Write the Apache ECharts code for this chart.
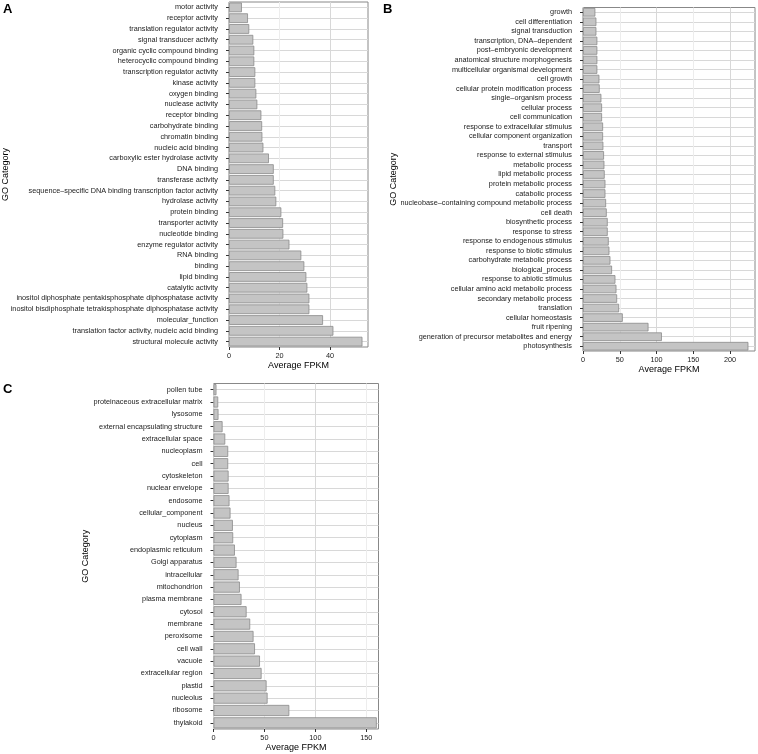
<!DOCTYPE html>
<html>
<head>
<meta charset="utf-8">
<script src="https://cdn.jsdelivr.net/npm/echarts@6/dist/echarts.min.js"></script>
<style>
html,body{margin:0;padding:0;background:#fff;}
#chart{width:758px;height:754px;}
</style>
</head>
<body>
<div id="chart"></div>
<script>
// Panel A: molecular function
const catsA = ["motor activity","receptor activity","translation regulator activity","signal transducer activity","organic cyclic compound binding","heterocyclic compound binding","transcription regulator activity","kinase activity","oxygen binding","nuclease activity","receptor binding","carbohydrate binding","chromatin binding","nucleic acid binding","carboxylic ester hydrolase activity","DNA binding","transferase activity","sequence\u2013specific DNA binding transcription factor activity","hydrolase activity","protein binding","transporter activity","nucleotide binding","enzyme regulator activity","RNA binding","binding","lipid binding","catalytic activity","inositol diphosphate pentakisphosphate diphosphatase activity","inositol bisdiphosphate tetrakisphosphate diphosphatase activity","molecular_function","translation factor activity, nucleic acid binding","structural molecule activity"];
const valsA = [5.1,7.5,8.0,9.6,10.0,10.0,10.4,10.4,10.8,11.2,12.8,13.1,13.2,13.6,15.8,17.7,17.7,18.3,18.7,20.7,21.4,21.5,23.9,28.6,29.8,30.6,31.0,31.8,31.8,37.2,41.3,52.8];
const ticksA = [0,20,40];

// Panel B: biological process
const catsB = ["growth","cell differentiation","signal transduction","transcription, DNA\u2013dependent","post\u2013embryonic development","anatomical structure morphogenesis","multicellular organismal development","cell growth","cellular protein modification process","single\u2013organism process","cellular process","cell communication","response to extracellular stimulus","cellular component organization","transport","response to external stimulus","metabolic process","lipid metabolic process","protein metabolic process","catabolic process","nucleobase\u2013containing compound metabolic process","cell death","biosynthetic process","response to stress","response to endogenous stimulus","response to biotic stimulus","carbohydrate metabolic process","biological_process","response to abiotic stimulus","cellular amino acid metabolic process","secondary metabolic process","translation","cellular homeostasis","fruit ripening","generation of precursor metabolites and energy","photosynthesis"];
const valsB = [16.8,18.2,18.2,19.5,19.5,19.5,19.5,22.3,22.7,25.0,25.9,25.9,27.3,27.3,27.7,28.6,29.1,29.5,30.5,30.5,31.4,32.3,33.6,33.6,35.0,35.9,37.3,39.5,44.1,45.5,46.4,49.1,54.1,89.1,107.3,225.0];
const ticksB = [0,50,100,150,200];

// Panel C: cellular component
const catsC = ["pollen tube","proteinaceous extracellular matrix","lysosome","external encapsulating structure","extracellular space","nucleoplasm","cell","cytoskeleton","nuclear envelope","endosome","cellular_component","nucleus","cytoplasm","endoplasmic reticulum","Golgi apparatus","intracellular","mitochondrion","plasma membrane","cytosol","membrane","peroxisome","cell wall","vacuole","extracellular region","plastid","nucleolus","ribosome","thylakoid"];
const valsC = [2.9,4.6,4.9,8.9,11.5,14.4,14.4,14.8,14.8,15.7,16.7,19.0,19.3,21.0,22.6,24.6,25.9,27.5,32.5,36.0,39.3,40.7,45.6,47.2,52.1,53.1,74.4,160.3];
const ticksC = [0,50,100,150];

const FONT = "'Liberation Sans', Arial, Helvetica, sans-serif";
const MAJOR = '#d8d8d8', MINOR = '#ededed', BORDER = '#888888';
const LBL = 7.3;

function xAxisFor(gi, max, step, ticks) {
  return {
    gridIndex: gi, type: 'value', min: 0, max: max, interval: step,
    axisLine: {show: false},
    axisTick: {show: true, length: 3, customValues: ticks, lineStyle: {color: '#333', width: 1}},
    axisLabel: {customValues: ticks, fontSize: LBL, color: '#222', margin: 5.5, fontFamily: FONT},
    splitLine: {show: true, lineStyle: {color: [MAJOR, MINOR], width: 1}},
    name: 'Average FPKM', nameLocation: 'middle', nameGap: 14.5, nameMoveOverlap: false,
    nameTextStyle: {fontSize: 9, color: '#000', fontFamily: FONT}
  };
}
function yAxisFor(gi, cats, gap) {
  return {
    gridIndex: gi, type: 'category', data: cats, inverse: true, offset: 6,
    axisLine: {show: false},
    axisTick: {show: true, length: 3, alignWithLabel: true, lineStyle: {color: '#333', width: 1}},
    axisLabel: {fontSize: LBL, color: '#222', margin: 5, fontFamily: FONT, interval: 0, hideOverlap: false},
    splitLine: {show: true, alignWithLabel: true, interval: 0, lineStyle: {color: MAJOR, width: 1}},
    name: 'GO Category', nameLocation: 'middle', nameGap: gap, nameRotate: 90, nameMoveOverlap: false,
    nameTextStyle: {fontSize: 9, color: '#000', fontFamily: FONT}
  };
}
function seriesFor(gi, vals) {
  return {
    type: 'bar', xAxisIndex: gi, yAxisIndex: gi, data: vals,
    barCategoryGap: '10%', silent: true,
    itemStyle: {color: '#c4c4c4', borderColor: '#8a8a8a', borderWidth: 0.8}
  };
}

const chart = echarts.init(document.getElementById('chart'), null, {renderer: 'canvas'});
chart.setOption({
  animation: false,
  backgroundColor: '#fff',
  textStyle: {fontFamily: FONT},
  title: [
    {text: 'A', left: 3, top: 3, padding: 0, textStyle: {fontSize: 13, fontWeight: 'bold', color: '#000', fontFamily: FONT}},
    {text: 'B', left: 383, top: 3, padding: 0, textStyle: {fontSize: 13, fontWeight: 'bold', color: '#000', fontFamily: FONT}},
    {text: 'C', left: 3, top: 383, padding: 0, textStyle: {fontSize: 13, fontWeight: 'bold', color: '#000', fontFamily: FONT}}
  ],
  grid: [
    {left: 229, top: 2, width: 139, height: 345, show: true, borderColor: BORDER, borderWidth: 1, outerBoundsMode: 'none'},
    {left: 583, top: 7.5, width: 172, height: 343.5, show: true, borderColor: BORDER, borderWidth: 1, outerBoundsMode: 'none'},
    {left: 213.5, top: 383.5, width: 165, height: 345.5, show: true, borderColor: BORDER, borderWidth: 1, outerBoundsMode: 'none'}
  ],
  xAxis: [xAxisFor(0, 55, 10, ticksA), xAxisFor(1, 234, 25, ticksB), xAxisFor(2, 162, 25, ticksC)],
  yAxis: [yAxisFor(0, catsA, 213), yAxisFor(1, catsB, 179), yAxisFor(2, catsC, 117)],
  series: [seriesFor(0, valsA), seriesFor(1, valsB), seriesFor(2, valsC)]
});
</script>
</body>
</html>
